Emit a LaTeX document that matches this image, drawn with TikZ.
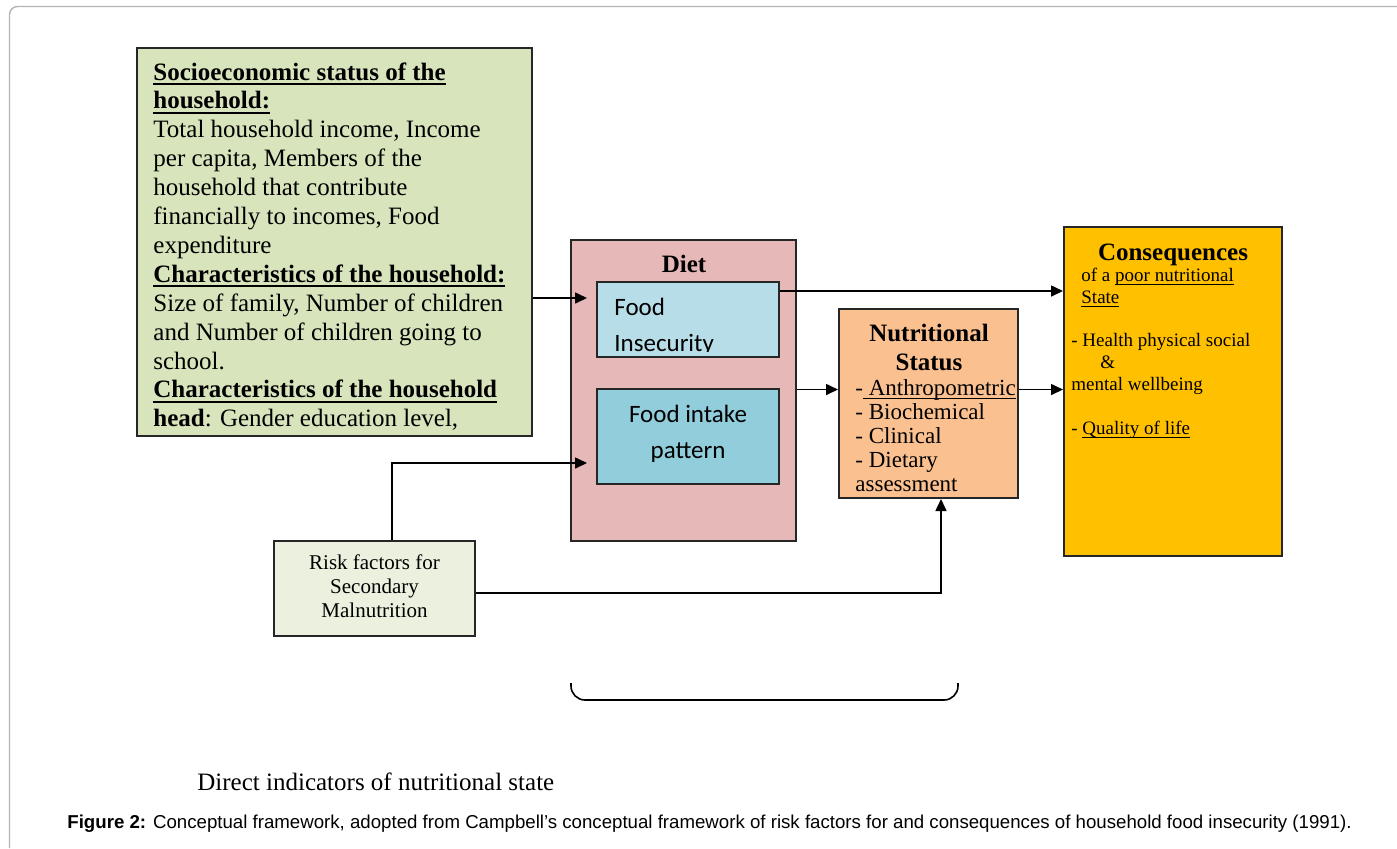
\documentclass[tikz,border=0pt]{standalone}
\usepackage{fontspec}
\setmainfont{Liberation Serif}
\newfontfamily\calfont{Carlito}
\newfontfamily\arialfont{Liberation Sans}
\usetikzlibrary{arrows.meta,fit,calc}
\definecolor{cgreen}{HTML}{D8E4BC}
\definecolor{cdiet}{HTML}{E6B8B7}
\definecolor{cfi}{HTML}{B7DEE8}
\definecolor{cfip}{HTML}{92CDDC}
\definecolor{cns}{HTML}{FAC090}
\definecolor{ccons}{HTML}{FFC000}
\definecolor{crisk}{HTML}{EBF1DE}
\definecolor{cframe}{HTML}{B4B4B4}
\newsavebox\ulbox
\newcommand{\ulthick}[1]{\sbox\ulbox{#1}\rlap{\rule[-2.4pt]{\wd\ulbox}{0.9pt}}\usebox\ulbox}
\newcommand{\ulthin}[1]{\sbox\ulbox{#1}\rlap{\rule[-1.8pt]{\wd\ulbox}{0.5pt}}\usebox\ulbox}
\tikzset{
  box/.style={draw=black!85, line width=1pt, inner sep=0pt},
  arr/.style={line width=0.8pt, -{Triangle[length=6pt,width=5.5pt]}},
  con/.style={line width=0.8pt},
  txt/.style={inner sep=0pt},
}
\begin{document}
\begin{tikzpicture}[x=0.5pt,y=-0.5pt]
\useasboundingbox (0,0) rectangle (1397,848);
\draw[cframe, line width=0.7pt, rounded corners=4pt] (9.5,848) -- (9.5,6.5) -- (1397,6.5);

% boxes
\node[box, fill=cgreen, fit={(137,48)(532,436)}] (soc) {};
\node[box, fill=cdiet, fit={(571,240)(796,541)}] (diet) {};
\node[box, fill=cfi, fit={(597,282)(779,357)}] (fi) {};
\node[box, fill=cfip, fit={(597,389)(779,484)}] (fip) {};
\node[box, fill=cns, fit={(839,309)(1018,498)}] (ns) {};
\node[box, fill=ccons, fit={(1064,227)(1282,556)}] (cons) {};
\node[box, fill=crisk, fit={(274,541)(475,636)}] (risk) {};

% socioeconomic text
\begin{scope}
\clip (138,49) rectangle (531,433);
\node[txt, anchor=base west, font=\fontsize{12.5}{14.45}\selectfont] (soct) at (153,80) {\parbox[t]{200pt}{\raggedright
\textbf{\ulthick{Socioeconomic status of the}}\\
\textbf{\ulthick{household:}}\\
Total household income, Income\\
per capita, Members of the\\
household that contribute\\
financially to incomes, Food\\
expenditure\\
\textbf{\ulthick{Characteristics of the household:}}\\
Size of family, Number of children\\
and Number of children going to\\
school.\\
\textbf{\ulthick{Characteristics of the household}}\\
\textbf{head}: Gender education level,}};
\end{scope}

% diet
\node[txt, anchor=base, font=\bfseries\fontsize{12.5}{15}\selectfont] (dietl) at (684,272) {Diet};
\begin{scope}
\clip (598,283) rectangle (778,351.5);
\node[txt, anchor=base west, font=\calfont\fontsize{12.5}{18}\selectfont] (fit) at (614,315) {\parbox[t]{80pt}{Food\\Insecurity}};
\end{scope}
\node[txt, anchor=base, font=\calfont\fontsize{12.5}{18}\selectfont] (fipt) at (688,422) {\parbox[t]{90pt}{\centering Food intake\\pattern}};

% nutritional status
\node[txt, anchor=base, font=\bfseries\fontsize{12.5}{14.5}\selectfont] (nst) at (929,341) {\parbox[t]{88pt}{\centering Nutritional\\Status}};
\node[txt, anchor=base west, font=\fontsize{11.5}{12}\selectfont] (nsi) at (855,395) {\parbox[t]{85pt}{-\ulthin{ Anthropometric}\\- Biochemical\\- Clinical\\- Dietary\\assessment}};

% consequences
\node[txt, anchor=base, font=\bfseries\fontsize{12.5}{15}\selectfont] (ctitle) at (1173,260) {Consequences};
\begin{scope}[every node/.style={txt, anchor=base west, font=\fontsize{9.5}{11}\selectfont}]
\node (c1) at (1081,281) {of a \ulthin{poor nutritional}};
\node (c2) at (1081,303) {\ulthin{State}};
\node (c3) at (1071,346) {- Health physical social};
\node (c4) at (1100,368) {\&};
\node (c5) at (1071,390) {mental wellbeing};
\node (c6) at (1071,434) {- \ulthin{Quality of life}};
\end{scope}

% risk factors
\node[txt, anchor=base, font=\fontsize{10.5}{12}\selectfont] (riskt) at (374.5,569) {\parbox[t]{95pt}{\centering Risk factors for\\Secondary\\Malnutrition}};

% connectors
\coordinate (p1) at (587,298);
\draw[arr] (p1 -| soc.east) -- (p1);
\coordinate (p2) at (0,291);
\draw[arr] (p2 -| fi.east) -- (p2 -| cons.west);
\coordinate (p3) at (0,389.5);
\draw[arr] (p3 -| diet.east) -- (p3 -| ns.west);
\draw[arr] (p3 -| ns.east) -- (p3 -| cons.west);
\coordinate (p4) at (392,463);
\coordinate (p5) at (587,463);
\draw[arr] (p4 |- risk.north) -- (p4) -- (p5);
\coordinate (p6) at (941,593);
\draw[arr] (p6 -| risk.east) -- (p6) -- (p6 |- ns.south);

% brace
\draw[con, rounded corners=7pt] (571,683) -- (571,700) -- (958,700) -- (958,683);

% bottom texts
\node[txt, anchor=base west, font=\fontsize{12.5}{15}\selectfont] (direct) at (197,790) {Direct indicators of nutritional state};
\node[txt, anchor=base west, font=\arialfont\fontsize{9.33}{11}\selectfont] (cap) at (67,828) {\textbf{Figure 2:} Conceptual framework, adopted from Campbell’s conceptual framework of risk factors for and consequences of household food insecurity (1991).};
\end{tikzpicture}
\end{document}
